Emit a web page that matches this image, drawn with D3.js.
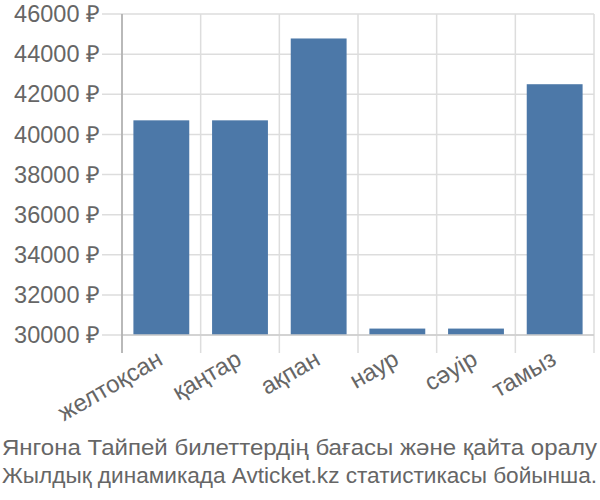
<!DOCTYPE html>
<html>
<head>
<meta charset="utf-8">
<script src="https://cdn.jsdelivr.net/npm/d3@7"></script>
<style>
  body { margin: 0; background: #fff; }
  text { font-family: "Liberation Sans", Arial, sans-serif; fill: #666; }
</style>
</head>
<body>
<div id="chart"></div>
<script>
// Chart data
const months = ["желтоқсан", "қаңтар", "ақпан", "наур", "сәуір", "тамыз"];
const prices = [40700, 40700, 44780, 30320, 30320, 42500];
const yTicks = [30000, 32000, 34000, 36000, 38000, 40000, 42000, 44000, 46000];
const captionLines = [
    "Янгона Тайпей билеттердің бағасы және қайта оралу",
    "Жылдық динамикада Avticket.kz статистикасы бойынша."
];

(() => {
    const width = 600;
    const height = 500;
    const margin = {top: 14, right: 6, bottom: 165, left: 122};
    const innerWidth = width - margin.left - margin.right;
    const innerHeight = height - margin.top - margin.bottom;

    const root = d3.select("#chart")
        .append("svg")
        .attr("width", width)
        .attr("height", height);

    const svg = root.append("g")
        .attr("transform", `translate(${margin.left}, ${margin.top})`);

    const x = d3.scaleBand()
        .domain(months)
        .range([0, innerWidth])
        .paddingInner(0.29)
        .paddingOuter(0.145);

    const y = d3.scaleLinear()
        .domain([30000, 46000])
        .range([innerHeight, 0]);

    // Horizontal gridlines (extend left as ticks)
    svg.append("g")
        .selectAll("line")
        .data(yTicks)
        .enter()
        .append("line")
        .attr("x1", -20)
        .attr("x2", innerWidth)
        .attr("y1", d => y(d))
        .attr("y2", d => y(d))
        .attr("stroke", "#ddd")
        .attr("stroke-width", 1.5);

    // Vertical gridlines at band boundaries
    const step = x.step();
    const bounds = d3.range(months.length + 1).map(i => i * step);
    svg.append("g")
        .selectAll("line")
        .data(bounds)
        .enter()
        .append("line")
        .attr("x1", d => d)
        .attr("x2", d => d)
        .attr("y1", 0)
        .attr("y2", innerHeight + 18)
        .attr("stroke", "#ddd")
        .attr("stroke-width", 1.5);

    // Bars
    svg.selectAll("rect")
        .data(prices)
        .enter()
        .append("rect")
        .attr("fill", "#4c78a8")
        .attr("x", (d, i) => x(months[i]))
        .attr("y", d => y(d))
        .attr("width", x.bandwidth())
        .attr("height", d => innerHeight - y(d));

    // Axis lines
    svg.append("line")
        .attr("x1", 0).attr("x2", innerWidth)
        .attr("y1", innerHeight).attr("y2", innerHeight)
        .attr("stroke", "#ccc")
        .attr("stroke-width", 1.5);
    svg.append("line")
        .attr("x1", 0).attr("x2", 0)
        .attr("y1", 0).attr("y2", innerHeight + 18)
        .attr("stroke", "#aaa")
        .attr("stroke-width", 1.5);

    // Y-axis labels
    svg.append("g")
        .selectAll("text")
        .data(yTicks)
        .enter()
        .append("text")
        .text(d => d + " ₽")
        .attr("x", -22)
        .attr("y", d => y(d))
        .attr("dy", "0.35em")
        .style("font-size", "23.5px")
        .style("text-anchor", "end");

    // X-axis labels, rotated
    svg.append("g")
        .selectAll("text")
        .data(months)
        .enter()
        .append("text")
        .text(d => d)
        .style("font-size", "24px")
        .style("text-anchor", "end")
        .attr("transform", d => `translate(${x(d) + x.bandwidth() / 2 - 6}, ${innerHeight + 13}) rotate(-30)`)
        .attr("dy", "0.75em");

    // Caption, each line fitted to the chart width
    root.append("g")
        .selectAll("text")
        .data(captionLines)
        .enter()
        .append("text")
        .text(d => d)
        .attr("x", 2)
        .attr("y", (d, i) => 455 + i * 28)
        .attr("textLength", 595)
        .attr("lengthAdjust", "spacingAndGlyphs")
        .style("font-size", "22px");
})()
</script>
</body>
</html>
